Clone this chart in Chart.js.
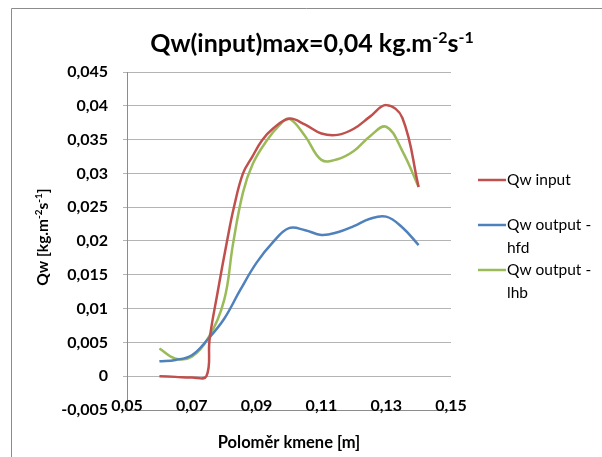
<!DOCTYPE html>
<html>
<head>
<meta charset="utf-8">
<script src="https://cdn.jsdelivr.net/npm/chart.js@4.4.0/dist/chart.umd.min.js"></script>
<style>
  html, body { margin: 0; padding: 0; background: #fff; }
  #wrap { width: 602px; height: 457px; }
</style>
</head>
<body>
<div id="wrap"><canvas id="chart"></canvas></div>
<script>
// tick values
const xTicks = [0.05, 0.07, 0.09, 0.11, 0.13, 0.15];
const yTicks = [-0.005, 0, 0.005, 0.01, 0.015, 0.02, 0.025, 0.03, 0.035, 0.04, 0.045];

// Qw input
const inputX = [0.06, 0.065, 0.07, 0.0745, 0.0755, 0.078, 0.081, 0.083, 0.0858, 0.0886, 0.0917, 0.095, 0.1, 0.105, 0.11, 0.115, 0.12, 0.125, 0.13, 0.135, 0.14];
const inputY = [0, -0.0001, -0.0002, 0, 0.0055, 0.0125, 0.0203, 0.025, 0.03, 0.0324, 0.0349, 0.0366, 0.0381, 0.0372, 0.0359, 0.0357, 0.0366, 0.0384, 0.0401, 0.0382, 0.028];

// Qw output - hfd
const hfdX = [0.06, 0.065, 0.07, 0.075, 0.08, 0.085, 0.09, 0.095, 0.1, 0.105, 0.11, 0.115, 0.12, 0.125, 0.13, 0.135, 0.14];
const hfdY = [0.0022, 0.0024, 0.0031, 0.0055, 0.0085, 0.0128, 0.0168, 0.0198, 0.0219, 0.0216, 0.0209, 0.0213, 0.0222, 0.0233, 0.0236, 0.022, 0.0194];

// Qw output - lhb
const lhbX = [0.06, 0.065, 0.07, 0.075, 0.08, 0.0827, 0.0858, 0.0889, 0.0932, 0.097, 0.1, 0.105, 0.11, 0.115, 0.12, 0.125, 0.13, 0.135, 0.14];
const lhbY = [0.0041, 0.0026, 0.0029, 0.0056, 0.0113, 0.0195, 0.0272, 0.0315, 0.0349, 0.0371, 0.0381, 0.0355, 0.032, 0.0321, 0.0333, 0.0355, 0.0369, 0.0333, 0.028];

const seriesNames = ["Qw input", "Qw output - hfd", "Qw output - lhb"];
const legendLines = [["Qw input"], ["Qw output -", "hfd"], ["Qw output -", "lhb"]];
const colors = ["#C0504D", "#4F81BD", "#9BBB59"];

const FONT = "Lato, 'Open Sans', sans-serif";

function pts(xs, ys) { return xs.map((x, i) => ({ x: x, y: ys[i] })); }
function fmt(v) { return String(Number(v.toFixed(3))).replace(".", ","); }

// text with superscripts: parts = [[text, isSup], ...]
function drawParts(ctx, parts, cx, cy, size, weight) {
  const sup = Math.round(size * 0.62);
  let w = 0;
  parts.forEach(p => {
    ctx.font = weight + " " + (p[1] ? sup : size) + "px " + FONT;
    w += ctx.measureText(p[0]).width;
  });
  let x = cx - w / 2;
  ctx.textAlign = "left";
  ctx.textBaseline = "alphabetic";
  parts.forEach(p => {
    ctx.font = weight + " " + (p[1] ? sup : size) + "px " + FONT;
    ctx.fillText(p[0], x, p[1] ? cy - size * 0.38 : cy);
    x += ctx.measureText(p[0]).width;
  });
}

const decor = {
  id: "decor",
  beforeDraw(chart) {
    const ctx = chart.ctx;
    ctx.save();
    ctx.strokeStyle = "#8c8c8c";
    ctx.lineWidth = 1;
    ctx.beginPath();
    ctx.moveTo(11.5, chart.height);
    ctx.lineTo(11.5, 8.5);
    ctx.lineTo(chart.width, 8.5);
    ctx.stroke();
    ctx.restore();
  },
  afterDraw(chart) {
    const ctx = chart.ctx;
    const area = chart.chartArea;
    const xs = chart.scales.x;
    ctx.save();
    ctx.fillStyle = "#000";
    // x tick labels sit on the axis line
    ctx.font = "bold 16px " + FONT;
    ctx.textAlign = "center";
    ctx.textBaseline = "middle";
    xTicks.forEach(v => ctx.fillText(fmt(v), xs.getPixelForValue(v), area.bottom - 4));
    // title
    drawParts(ctx, [["Qw(input)max=0,04 kg.m", false], ["-2", true], ["s", false], ["-1", true]], 312, 52, 25, "bold");
    // x axis title
    drawParts(ctx, [["Poloměr kmene [m]", false]], (area.left + area.right) / 2, 448, 16.5, "bold");
    // y axis title
    ctx.translate(48, 237);
    ctx.rotate(-Math.PI / 2);
    drawParts(ctx, [["Qw [kg.m", false], ["-2", true], ["s", false], ["-1", true], ["]", false]], 0, 0, 15.5, "bold");
    ctx.restore();

    // legend
    ctx.save();
    const ys = [180, 225, 270];
    chart.data.datasets.forEach((ds, i) => {
      ctx.strokeStyle = ds.borderColor;
      ctx.lineWidth = 2.5;
      ctx.beginPath();
      ctx.moveTo(478, ys[i]);
      ctx.lineTo(506, ys[i]);
      ctx.stroke();
      ctx.fillStyle = "#000";
      ctx.font = "15.5px " + FONT;
      ctx.textAlign = "left";
      ctx.textBaseline = "middle";
      legendLines[i].forEach((t, j) => ctx.fillText(t, 507, ys[i] + j * 23));
    });
    ctx.restore();
  }
};

function series(i, xs, ys) {
  return {
    label: seriesNames[i],
    data: pts(xs, ys),
    borderColor: colors[i],
    backgroundColor: colors[i],
    borderWidth: 2.5,
    pointRadius: 0,
    tension: 0.4,
    fill: false
  };
}

new Chart(document.getElementById("chart"), {
  type: "scatter",
  data: {
    datasets: [series(0, inputX, inputY), series(1, hfdX, hfdY), series(2, lhbX, lhbY)]
  },
  options: {
    responsive: true,
    maintainAspectRatio: false,
    animation: false,
    showLine: true,
    layout: { padding: { left: 0, top: 72, right: 151, bottom: 47 } },
    plugins: { legend: { display: false }, title: { display: false }, tooltip: { enabled: false } },
    scales: {
      x: {
        type: "linear",
        min: 0.05, max: 0.15,
        afterBuildTicks: s => { s.ticks = xTicks.map(v => ({ value: v })); },
        afterFit: s => { s.height = 0; },
        grid: { display: false },
        border: { display: true, color: "#8c8c8c", width: 1 },
        ticks: { display: false }
      },
      y: {
        type: "linear",
        min: -0.005, max: 0.045,
        afterBuildTicks: s => { s.ticks = yTicks.map(v => ({ value: v })); },
        afterFit: s => { s.width = 127; },
        grid: { color: "#b4b4b4", lineWidth: 1, tickLength: 4 },
        border: { display: true, color: "#8c8c8c", width: 1 },
        ticks: {
          color: "#000",
          padding: 15,
          autoSkip: false,
          font: { family: FONT, size: 16, weight: "bold" },
          callback: v => fmt(v)
        }
      }
    }
  },
  plugins: [decor]
});
</script>
</body>
</html>
